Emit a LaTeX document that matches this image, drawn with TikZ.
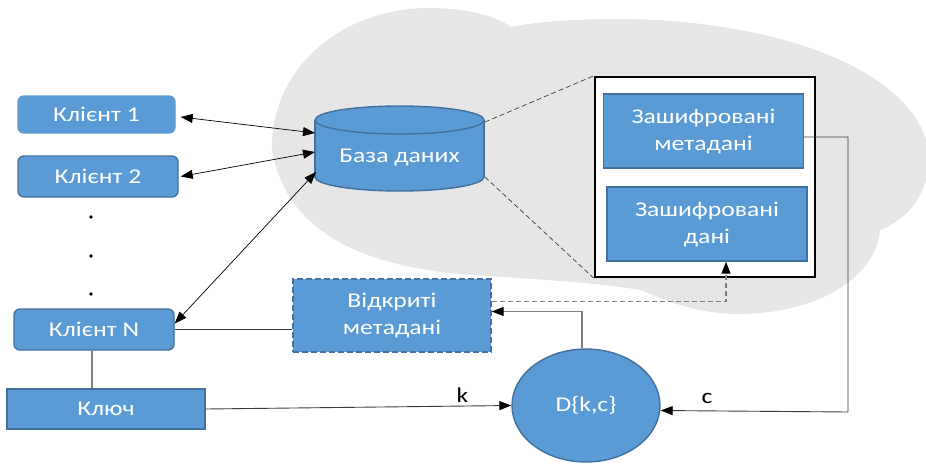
\documentclass[tikz,border=0pt]{standalone}
\usepackage{fontspec}
\setmainfont{Carlito}[FakeStretch=1.22]
\usetikzlibrary{arrows.meta,shapes.geometric}

\definecolor{boxblue}{HTML}{5B9BD5}
\definecolor{boxedge}{HTML}{41719C}
\definecolor{cloudgray}{HTML}{E6E6E6}
\definecolor{wire}{HTML}{3A3A3A}
\definecolor{softwire}{HTML}{7F7F7F}

\tikzset{
  blk/.style={fill=boxblue, draw=boxedge, line width=1.4pt, text=white,
    font=\fontsize{21}{27}\selectfont, align=center, inner sep=0pt},
  client/.style={blk, rounded corners=6pt, minimum width=160pt, minimum height=41pt},
  encbox/.style={blk, minimum width=200pt, minimum height=74pt},
  holder/.style={draw=black, line width=2.4pt, fill=white, minimum width=220pt,
    minimum height=200pt, inner sep=0pt},
  dotmark/.style={circle, fill=black, inner sep=0pt, minimum size=3.6pt},
  biarrow/.style={{Triangle[length=12pt,width=9pt]}-{Triangle[length=12pt,width=9pt]}, draw=black, line width=0.7pt},
  arr/.style={-{Triangle[length=12pt,width=9pt,color=black]}, draw=wire, line width=0.9pt},
  softarr/.style={-{Triangle[length=12pt,width=9pt,color=black]}, draw=softwire, line width=1.3pt},
  dasharrow/.style={-{Triangle[length=12pt,width=9pt,color=black]}, draw=softwire, line width=1.3pt, dash pattern=on 5pt off 3pt},
  thindash/.style={draw=wire, line width=0.7pt, dash pattern=on 5pt off 3pt},
  lbl/.style={text=black, font=\fontsize{21}{24}\selectfont, inner sep=1pt}
}

\begin{document}
\begin{tikzpicture}[x=1pt,y=-1pt]
\useasboundingbox (0,0) rectangle (926,463);
\clip (0,0) rectangle (926,463);

% cloud behind the storage side
\fill[cloudgray] (272,150)
  .. controls (270,70) and (340,8) .. (429,8)
  .. controls (465,8) and (495,15) .. (511,27)
  .. controls (540,21) and (580,19) .. (620,19)
  .. controls (780,20) and (905,70) .. (926,140)
  .. controls (936,185) and (912,218) .. (880,230)
  .. controls (875,282) and (810,315) .. (735,314)
  .. controls (690,313) and (662,298) .. (640,290)
  .. controls (580,280) and (500,278) .. (450,273)
  .. controls (350,262) and (285,225) .. (272,150) -- cycle;

% database cylinder
\fill[boxblue, draw=boxedge, line width=1.4pt] (399.5,177) ellipse [x radius=84.5pt, y radius=14pt];
\fill[boxblue] (315,120) rectangle (484,177);
\draw[boxedge, line width=1.4pt] (315,120) -- (315,177) (484,120) -- (484,177);
\fill[boxblue, draw=boxedge, line width=1.4pt] (399.5,120) ellipse [x radius=84.5pt, y radius=14pt];
\node[text=white, font=\fontsize{21}{27}\selectfont, minimum width=169pt, minimum height=68pt, inner sep=0pt] (db) at (399.5,157) {База даних};
\coordinate (dbA) at (315,133);
\coordinate (dbB) at (315,152);
\coordinate (dbC) at (316,172);
\coordinate (dbTop) at (485,122);
\coordinate (dbBot) at (485,177);

% encrypted storage
\node[holder] (store) at (705,177) {};
\node[encbox] (encmeta) at (703.5,131) {Зашифровані\\метадані};
\node[encbox] (encdata) at (707,224) {Зашифровані\\дані};
\draw[thindash] (dbTop) -- (store.north west);
\draw[thindash] (dbBot) -- (store.south west);

% clients
\node[client, draw=boxblue, minimum height=37pt, minimum width=157pt] (k1) at (96.5,114.5) {Клієнт 1};
\node[client] (k2) at (98,176.5) {Клієнт 2};
\node[client] (kn) at (94,329.5) {Клієнт N};
\node[dotmark] (d1) at (91,217) {};
\node[dotmark] (d2) at (91,256) {};
\node[dotmark] (d3) at (91,294) {};

\node[blk, minimum width=198pt, minimum height=40pt] (key) at (106,409) {Ключ};
\node[blk, dashed, dash pattern=on 6pt off 3pt, minimum width=198pt, minimum height=73pt] (open) at (392,315.5) {Відкриті\\метадані};
\node[blk, ellipse, minimum width=148pt, minimum height=113pt] (dec) at (586,405.5) {D\{k,c\}};

% links
\draw[biarrow] ([shift={(5pt,-2.5pt)}]k1.east) -- (dbA);
\draw[biarrow] ([xshift=2pt]k2.east) -- (dbB);
\draw[biarrow] ([yshift=6pt]kn.east) -- (dbC);
\draw[draw=wire, line width=0.9pt] (open.west |- kn.east) -- (kn.east);
\draw[draw=softwire, line width=1.3pt] ([xshift=-2pt]kn.south) -- ([xshift=-2pt]kn.south |- key.north);
\draw[arr] (key.east) -- (dec.west) node[lbl, pos=0.84, above=2pt] (klbl) {k};
\draw[softarr] ([xshift=-4pt]dec.north) |- ([yshift=4pt]open.east);
\draw[dasharrow] ([yshift=14pt]open.east) -| ([xshift=19pt]encdata.south);
\coordinate (cturn) at (848,412);
\draw[arr] ([yshift=-6pt]encmeta.east) -| (cturn) -- ([yshift=-5pt]dec.east);
\node[lbl] (clbl) at (707,398) {c};
\end{tikzpicture}
\end{document}
